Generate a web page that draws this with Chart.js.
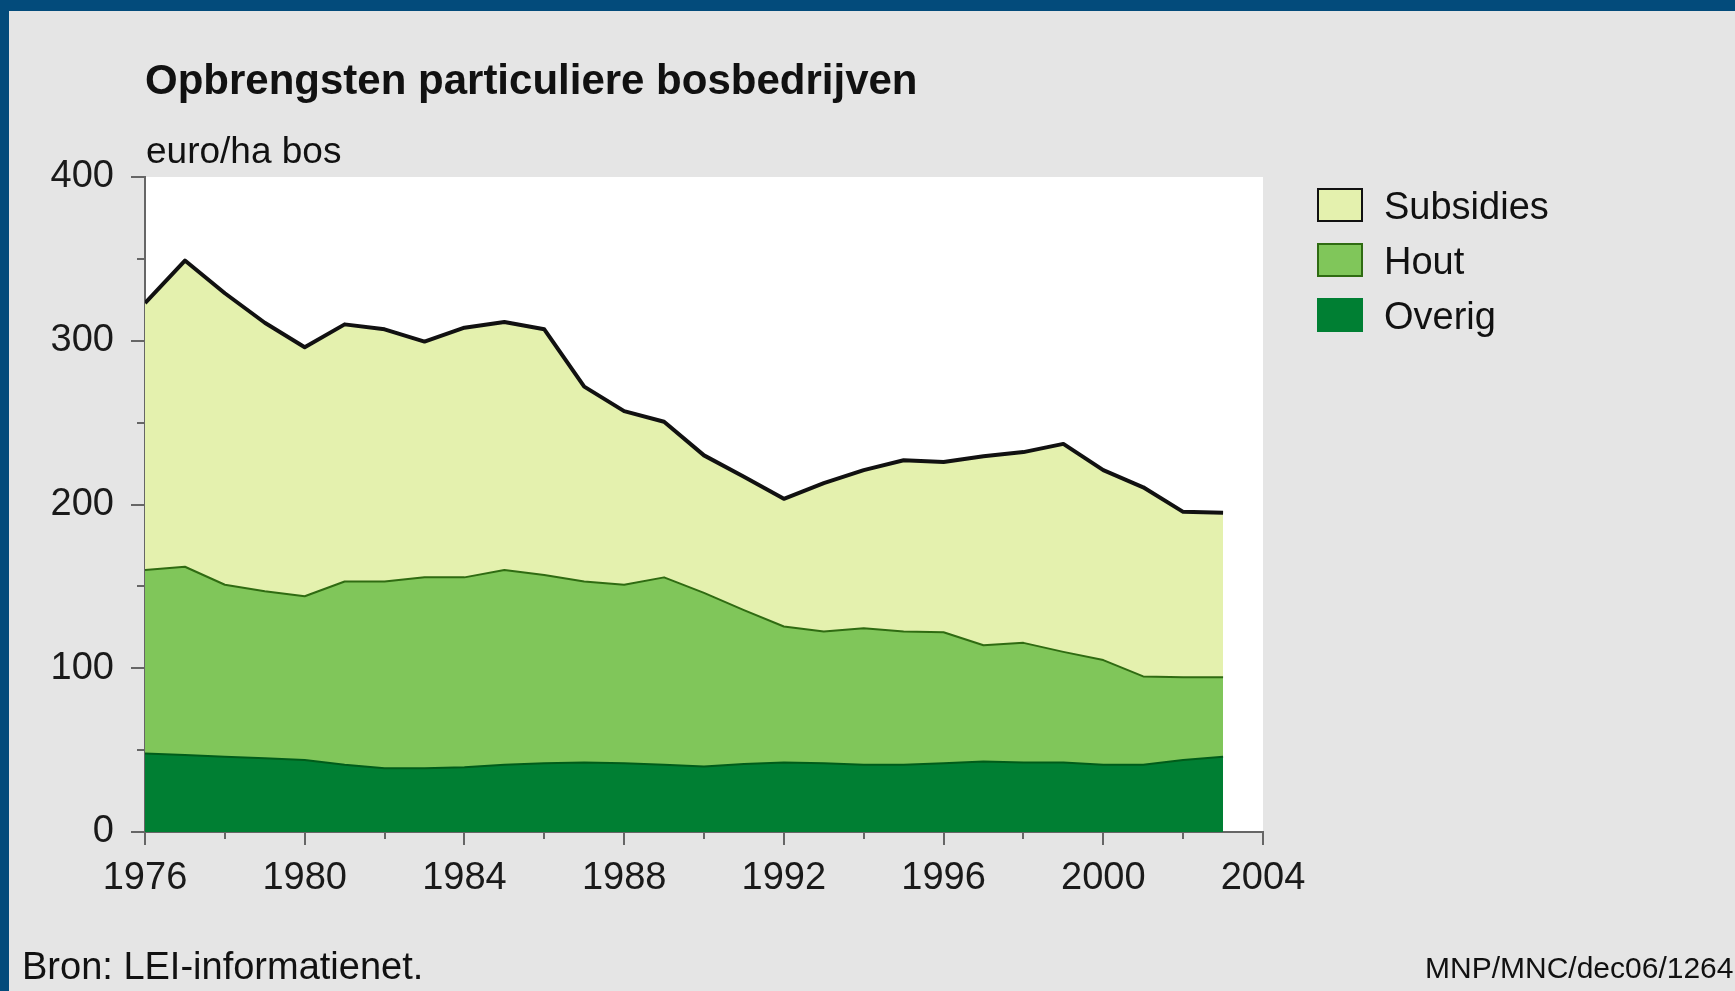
<!DOCTYPE html>
<html><head><meta charset="utf-8">
<script src="https://cdn.jsdelivr.net/npm/chart.js@4.4.1/dist/chart.umd.min.js"></script>
<style>
html,body{margin:0;padding:0;background:#e5e5e5;overflow:hidden;}
#wrap{position:relative;width:1735px;height:991px;overflow:hidden;background:#e5e5e5;font-family:'Liberation Sans',Arial,sans-serif;color:#111;}
#bt{position:absolute;left:0;top:0;width:1735px;height:11px;background:#034b7b;}
#bl{position:absolute;left:0;top:0;width:9px;height:991px;background:#034b7b;}
canvas{position:absolute;left:0;top:0;}
.t{position:absolute;white-space:nowrap;line-height:1;}
#title{left:145px;top:59px;font-size:42px;font-weight:bold;}
#unit{left:146px;top:132px;font-size:37px;}
#src{left:22px;top:947px;font-size:38px;}
#code{left:1425px;top:953px;font-size:30px;}
.lg{position:absolute;left:1317px;width:42px;height:30px;border:2px solid #333;}
.lt{position:absolute;left:1384px;font-size:38px;line-height:1;white-space:nowrap;}
</style></head>
<body>
<div id="wrap">
<canvas id="c" width="1735" height="991"></canvas>
<div id="bt"></div><div id="bl"></div>
<div class="t" id="title">Opbrengsten particuliere bosbedrijven</div>
<div class="t" id="unit">euro/ha bos</div>
<div class="t" id="src">Bron: LEI-informatienet.</div>
<div class="t" id="code">MNP/MNC/dec06/1264</div>
<div id="legend"></div>
</div>
<script>
const years = [1976,1977,1978,1979,1980,1981,1982,1983,1984,1985,1986,1987,1988,1989,1990,1991,1992,1993,1994,1995,1996,1997,1998,1999,2000,2001,2002,2003];
const overig = [48,47,46,45,44,41,39,39,39.5,41,42,42.5,42,41,40,41.5,42.5,42,41,41,42,43,42.5,42.5,41,41,44,46];
const hout = [112,115,105,102,100,112,114,116.5,116,119,115,110.5,109,114.5,106,94,83,80.5,83.5,81.5,80,71,73,67.5,64,54,50.5,48.5];
const subsidies = [163,187,178,164,152,157,154,144,152.5,151.5,150,119,106,95,84,81.5,78,90.5,96.5,104.5,104,115.5,116.5,127,116,115.5,101,100.5];
const seriesNames = ['Overig','Hout','Subsidies'];
const fillColors = ['#007f33','#80c65a','#e4f1ae'];
const lineColors = ['#005c1a','#2f6b12','#111111'];
const lineWidths = [2,2,4];
const yTickLabels = [0,100,200,300,400];
const xTickLabels = [1976,1980,1984,1988,1992,1996,2000,2004];

const toPts = arr => arr.map((v,i)=>({x:years[i], y:v}));
const seriesData = [overig, hout, subsidies];
const datasets = seriesData.map((arr,i)=>({
  label: seriesNames[i],
  data: toPts(arr),
  backgroundColor: fillColors[i],
  borderColor: lineColors[i],
  borderWidth: lineWidths[i],
  fill: i===0 ? 'origin' : '-1',
  pointRadius: 0,
  tension: 0
}));

// HTML legend (reverse order)
const lg = document.getElementById('legend');
[2,1,0].forEach((idx,k)=>{
  const b = document.createElement('div');
  b.className='lg';
  b.style.top = (188 + k*55) + 'px';
  b.style.background = fillColors[idx];
  b.style.borderColor = idx===0 ? fillColors[idx] : lineColors[idx];
  lg.appendChild(b);
  const t = document.createElement('div');
  t.className='lt';
  t.style.top = (187 + k*55) + 'px';
  t.textContent = seriesNames[idx];
  lg.appendChild(t);
});

const plotBg = {
  id:'plotBg',
  beforeDraw(chart){
    const {ctx, chartArea:a} = chart;
    ctx.save(); ctx.fillStyle='#ffffff';
    ctx.fillRect(a.left, a.top, a.right-a.left, a.bottom-a.top);
    ctx.restore();
  }
};
const tickMarks = {
  id:'tickMarks',
  afterDraw(chart){
    const {ctx, scales:{x,y}} = chart;
    ctx.save(); ctx.strokeStyle='#666'; ctx.lineWidth=2;
    x.ticks.forEach(t=>{
      const px = Math.round(x.getPixelForValue(t.value));
      const len = xTickLabels.includes(t.value) ? 13 : 7;
      ctx.beginPath(); ctx.moveTo(px, y.bottom); ctx.lineTo(px, y.bottom+len); ctx.stroke();
    });
    y.ticks.forEach(t=>{
      const py = Math.round(y.getPixelForValue(t.value));
      const len = yTickLabels.includes(t.value) ? 14 : 8;
      ctx.beginPath(); ctx.moveTo(x.left, py); ctx.lineTo(x.left-len, py); ctx.stroke();
    });
    ctx.restore();
  }
};

Chart.defaults.font.family = "'Liberation Sans', Arial, sans-serif";
new Chart(document.getElementById('c'), {
  type:'line',
  data:{datasets},
  plugins:[plotBg, tickMarks],
  options:{
    responsive:false, animation:false, devicePixelRatio:1,
    layout:{padding:{left:0, top:177, right:472, bottom:0}},
    plugins:{legend:{display:false}, tooltip:{enabled:false}},
    elements:{line:{borderJoinStyle:'round'}},
    scales:{
      x:{type:'linear', min:1976, max:2004,
        grid:{display:false, drawTicks:false},
        border:{display:true, color:'#666', width:2},
        ticks:{stepSize:2, autoSkip:false, maxRotation:0, padding:24, color:'#1a1a1a', font:{size:38},
          callback:v=> xTickLabels.includes(v) ? String(v) : ''},
        afterFit:s=>{s.height = 159;}
      },
      y:{type:'linear', stacked:true, min:0, max:400,
        grid:{display:false, drawTicks:false},
        border:{display:true, color:'#666', width:2},
        ticks:{stepSize:50, autoSkip:false, padding:31, color:'#1a1a1a', font:{size:38},
          callback:v=> yTickLabels.includes(v) ? String(v) : ''},
        afterFit:s=>{s.width = 145;}
      }
    }
  }
});
</script>
</body></html>
